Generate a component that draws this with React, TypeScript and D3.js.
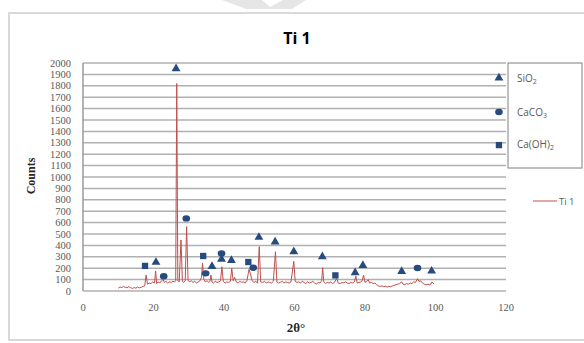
import React from "react";
import * as d3 from "d3";

const title = "Ti 1";
const xTicks = [0, 20, 40, 60, 80, 100, 120];
const yTicks = [0, 100, 200, 300, 400, 500, 600, 700, 800, 900, 1000, 1100, 1200, 1300, 1400, 1500, 1600, 1700, 1800, 1900, 2000];

// XRD pattern (2θ, counts)
const xrdAngles = [
  10, 10.5, 11, 11.5, 12, 12.5, 13, 13.5, 14, 14.5, 15, 15.5, 16, 16.5, 17, 17.5, 17.9, 18.3, 18.8, 19.3, 19.8,
  20.3, 20.6, 20.9, 21.3, 21.8, 22.3, 22.7, 23.1, 23.5, 24, 24.5, 25, 25.5, 26, 26.3, 26.6, 26.9, 27.3, 27.8,
  28.2, 28.6, 29.0, 29.4, 29.8, 30.2, 30.7, 31.2, 31.7, 32.2, 32.7, 33.2, 33.6, 33.9, 34.3, 34.7, 35.2, 35.7,
  36.0, 36.3, 36.6, 37, 37.5, 38, 38.5, 39, 39.4, 39.8, 40.3, 40.8, 41.3, 41.8, 42.2, 42.6, 43, 43.5, 44, 44.5,
  45, 45.5, 46, 46.5, 47.1, 47.5, 48, 48.5, 49, 49.5, 50, 50.4, 51, 51.5, 52, 52.5, 53, 53.5, 54, 54.6, 55,
  55.5, 56, 56.5, 57, 57.5, 58, 58.5, 59, 59.8, 60.2, 60.7, 61.2, 61.7, 62.2, 62.7, 63.2, 63.7, 64.2, 64.7,
  65.2, 65.7, 66.2, 66.7, 67.2, 67.7, 68.0, 68.3, 68.8, 69.3, 69.8, 70.3, 70.8, 71.3, 72, 72.4, 73, 73.5, 74,
  74.5, 75, 75.5, 76, 76.5, 77, 77.4, 77.8, 78.3, 78.8, 79.2, 79.6, 80, 80.5, 80.9, 81.3, 81.8, 82.3, 82.8,
  83.3, 83.8, 84.3, 84.8, 85.3, 85.8, 86.3, 86.8, 87.3, 87.8, 88.3, 88.8, 89.3, 89.8, 90.4, 90.8, 91.3, 91.8,
  92.3, 92.8, 93.3, 93.8, 94.3, 94.9, 95.3, 95.8, 96.3, 96.8, 97.3, 97.8, 98.3, 98.7, 99, 99.3, 99.6,
];
const xrdCounts = [
  25, 35, 30, 40, 32, 28, 38, 30, 22, 30, 25, 35, 28, 32, 40, 45, 140, 60, 70, 65, 80,
  70, 175, 65, 80, 70, 90, 100, 75, 85, 70, 80, 75, 85, 80, 90, 1820, 90, 80, 447,
  85, 75, 90, 565, 95, 80, 90, 75, 85, 70, 80, 90, 120, 245, 100, 80, 90, 75,
  85, 140, 80, 70, 85, 75, 80, 90, 213, 85, 70, 80, 75, 85, 199, 90, 120, 80, 70, 85,
  75, 80, 70, 90, 190, 150, 90, 75, 85, 70, 389, 80, 75, 85, 70, 80, 75, 70, 85, 345, 80,
  70, 75, 85, 70, 80, 75, 70, 80, 260, 85, 75, 80, 70, 85, 75, 65, 80, 70, 75,
  85, 70, 60, 75, 70, 90, 205, 80, 65, 75, 70, 80, 65, 75, 110, 70, 65, 75, 70,
  80, 70, 65, 75, 70, 80, 130, 70, 75, 80, 90, 140, 75, 85, 100, 70, 75, 65, 70,
  55, 45, 40, 45, 38, 42, 35, 40, 38, 45, 50, 55, 60, 65, 80, 60, 55, 65,
  60, 70, 65, 80, 75, 108, 85, 90, 70, 60, 55, 58, 55, 60, 80, 70, 60,
];

// Phase markers (2θ, counts); the last point of each is the key symbol beside the label box
const sio2X = [26.4, 20.7, 36.6, 39.3, 42.1, 49.9, 54.5, 59.8, 67.9, 77.2, 79.4, 90.4, 98.9, 118];
const sio2Y = [1950, 252, 216, 280, 269, 471, 430, 345, 301, 161, 225, 172, 175, 1870];
const caco3X = [29.3, 22.9, 34.8, 39.3, 48.3, 94.9, 118];
const caco3Y = [637, 129, 155, 330, 204, 202, 1570];
const caoh2X = [17.6, 34.1, 46.9, 71.6, 118];
const caoh2Y = [220, 307, 254, 137, 1280];

const W = 584;
const H = 343;
const markerColor = "#264B7E";
const lineColor = "#C0504D";
const serif = "'Liberation Serif', 'DejaVu Serif', serif";
const sans = "'Open Sans', 'Noto Sans', sans-serif";

export default function App() {
  const x = d3.scaleLinear().domain([0, 120]).range([83, 506]);
  const y = d3.scaleLinear().domain([0, 2000]).range([291, 63]);
  const line = d3
    .line<number>()
    .x((_, i) => x(xrdAngles[i]))
    .y((d) => y(d));
  const tri = d3.symbol().type(d3.symbolTriangle).size(34)();
  const sq = d3.symbol().type(d3.symbolSquare).size(40)();

  return (
    <svg
      width={W}
      height={H}
      style={{ position: "absolute", left: 0, top: 0, background: "#fff" }}
    >
      <rect x={0} y={0} width={W} height={H} fill="#fff" />
      <polygon points="222,0 262,0 270,7 283,0 306,0 292,9 246,9" fill="#e6e6e6" />
      <rect x={9} y={13} width={600} height={327} fill="#fff" stroke="#d9d9d9" strokeWidth={2} />

      <text x={297} y={44} textAnchor="middle" fontFamily={sans} fontWeight="bold" fontSize={16} fill="#000">
        {title}
      </text>

      {yTicks.map((t) => (
        <line key={"g" + t} x1={x(0)} x2={x(120)} y1={y(t)} y2={y(t)} stroke="#b0b0b0" strokeWidth={1.5} />
      ))}
      <line x1={x(0)} x2={x(0)} y1={y(0)} y2={y(2000)} stroke="#9a9a9a" strokeWidth={1.5} />

      {yTicks.map((t) => (
        <text key={"yl" + t} x={71} y={y(t) + 3.5} textAnchor="end" fontFamily={serif} fontSize={10.5} fill="#595959">
          {t}
        </text>
      ))}
      {xTicks.map((t) => (
        <text key={"xl" + t} x={x(t)} y={311} textAnchor="middle" fontFamily={serif} fontSize={10.5} fill="#595959">
          {t}
        </text>
      ))}

      <text
        transform="translate(35,176) rotate(-90)"
        textAnchor="middle"
        fontFamily={serif}
        fontWeight="bold"
        fontSize={12}
        fill="#262626"
      >
        Counts
      </text>
      <text x={296} y={332} textAnchor="middle" fontFamily={serif} fontWeight="bold" fontSize={13} fill="#262626">
        2θ°
      </text>

      <path d={line(xrdCounts) || ""} fill="none" stroke={lineColor} strokeWidth={1} />

      {sio2X.map((v, i) => (
        <path key={"s" + i} d={tri || ""} transform={`translate(${x(v)},${y(sio2Y[i])})`} fill={markerColor} />
      ))}
      {caco3X.map((v, i) => (
        <ellipse key={"c" + i} cx={x(v)} cy={y(caco3Y[i])} rx={3.8} ry={3.2} fill={markerColor} />
      ))}
      {caoh2X.map((v, i) => (
        <path key={"o" + i} d={sq || ""} transform={`translate(${x(v)},${y(caoh2Y[i])})`} fill={markerColor} />
      ))}

      <rect x={508} y={63} width={74} height={105} fill="#fff" stroke="#7f7f7f" strokeWidth={1} />
      <text x={517} y={82} fontFamily={sans} fontSize={10} fill="#595959">
        SiO<tspan fontSize={7} dy={2}>2</tspan>
      </text>
      <text x={517} y={116} fontFamily={sans} fontSize={10} fill="#595959">
        CaCO<tspan fontSize={7} dy={2}>3</tspan>
      </text>
      <text x={517} y={148} fontFamily={sans} fontSize={10} fill="#595959">
        Ca(OH)<tspan fontSize={7} dy={2}>2</tspan>
      </text>

      <line x1={533} x2={557} y1={201} y2={201} stroke={lineColor} strokeWidth={1} />
      <text x={559} y={204.5} fontFamily={sans} fontSize={9.5} fill="#595959">
        Ti 1
      </text>
    </svg>
  );
}
